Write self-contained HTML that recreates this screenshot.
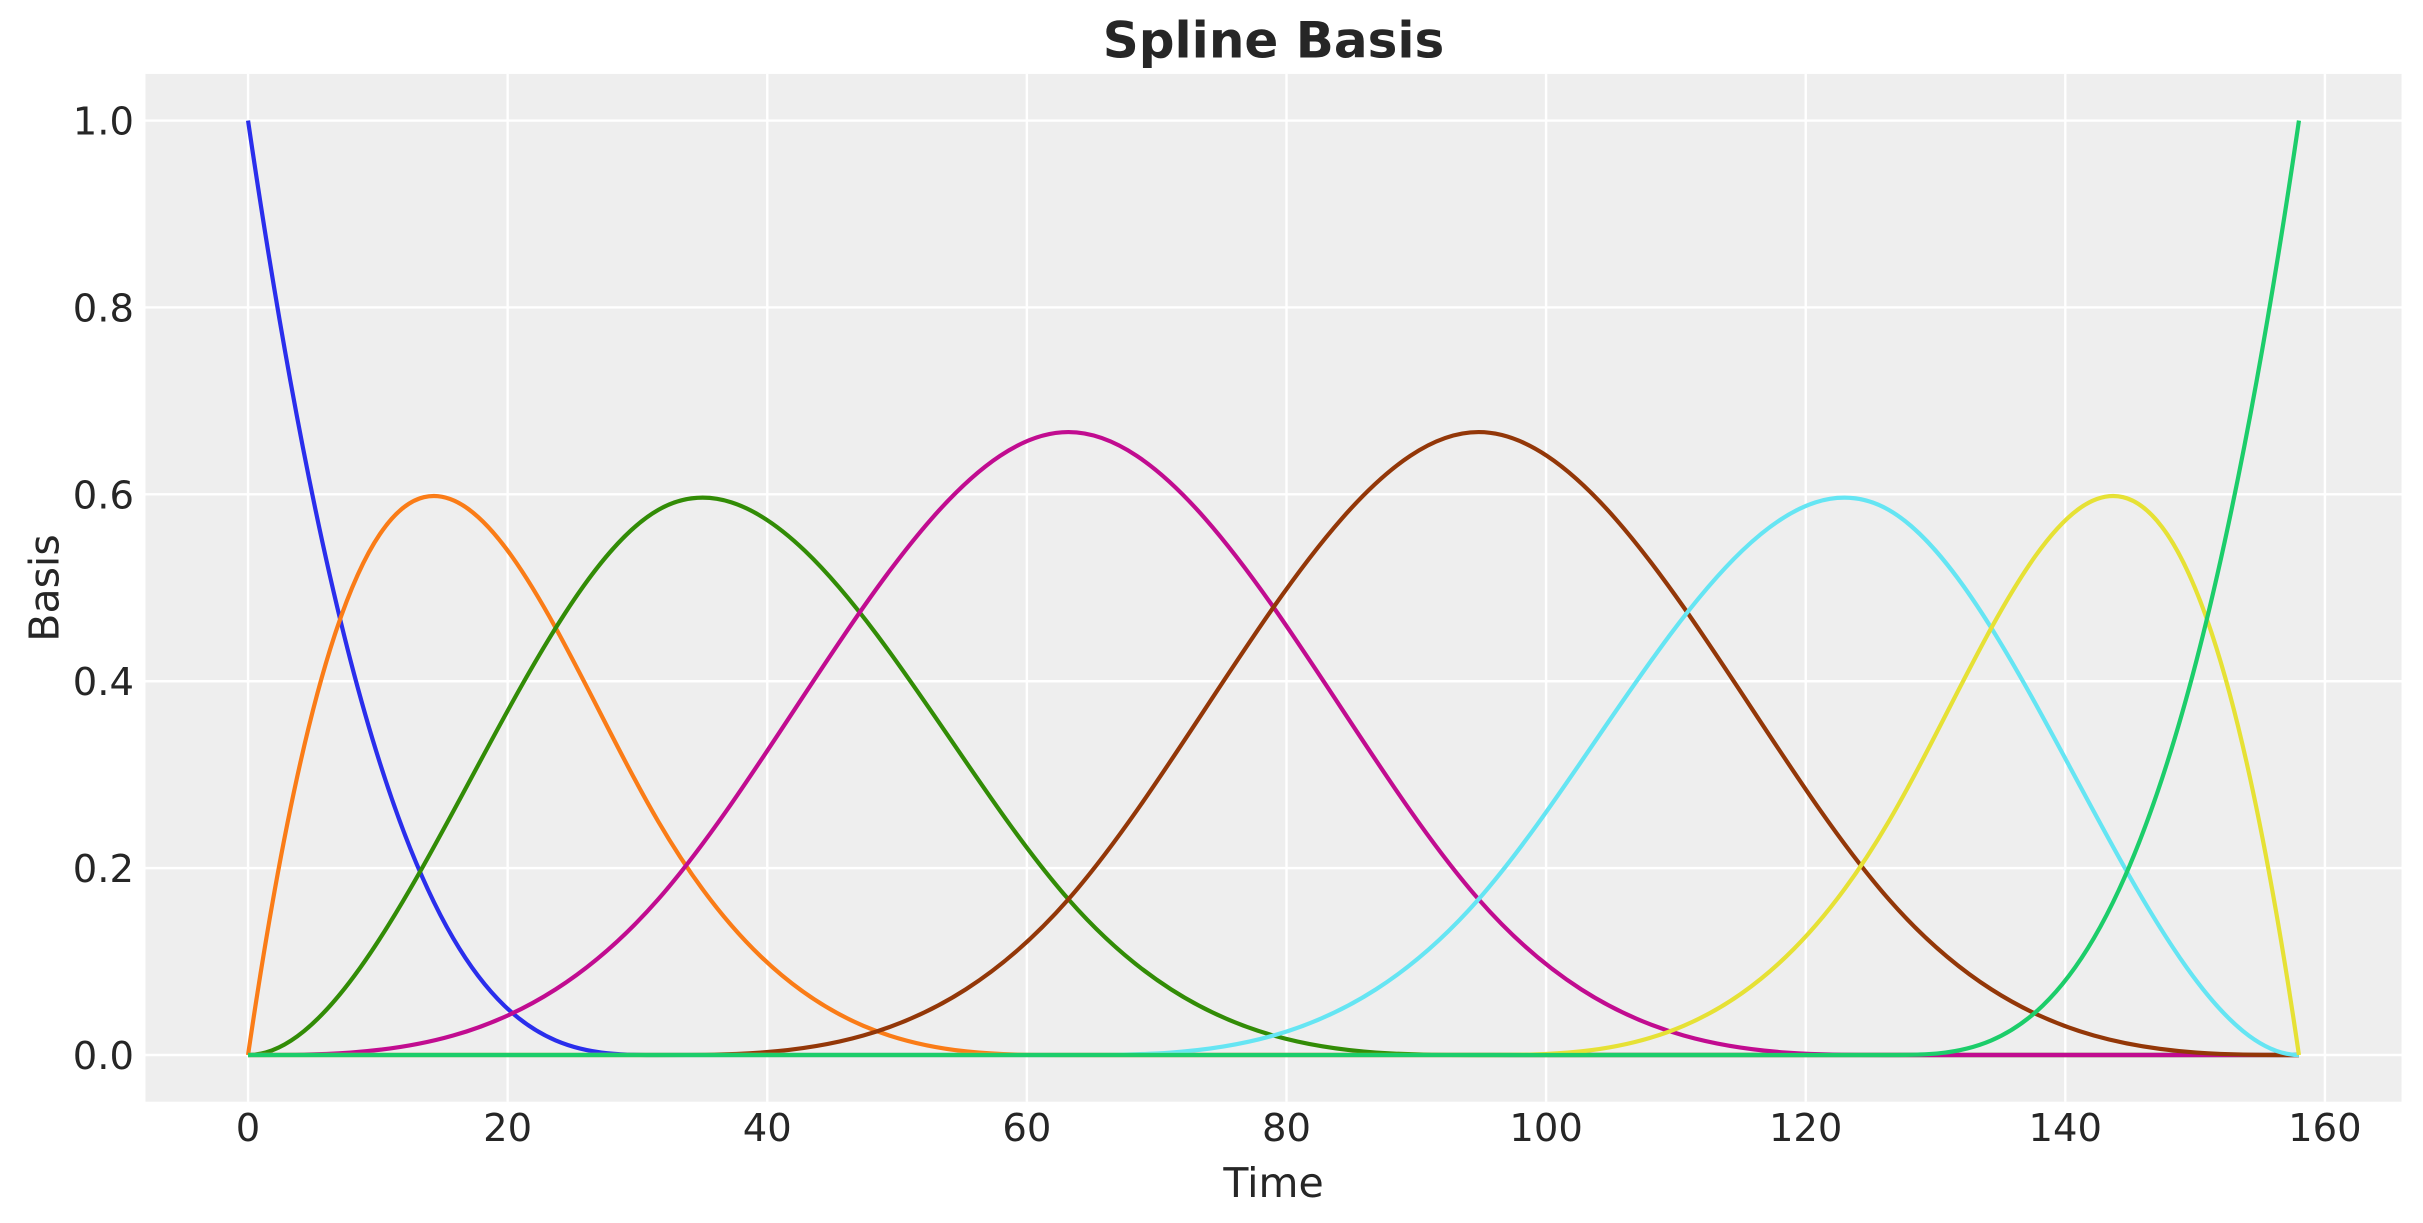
<!DOCTYPE html>
<html>
<head>
<meta charset="utf-8">
<style>
  html, body { margin: 0; padding: 0; background: #ffffff; }
  svg { display: block; }
  text { font-family: "DejaVu Sans", "Liberation Sans", sans-serif; fill: #262626; }
</style>
</head>
<body>
<svg width="2423" height="1223" viewBox="0 0 2423 1223" xmlns="http://www.w3.org/2000/svg">
  <rect x="0" y="0" width="2423" height="1223" fill="#ffffff"/>
  <!-- axes background -->
  <rect x="145.5" y="73.9" width="2256" height="1027.8" fill="#eeeeee"/>
  <!-- grid -->
  <g stroke="#ffffff" stroke-width="2.4">
    <line x1="248.05" y1="73.9" x2="248.05" y2="1101.7"/>
    <line x1="507.66" y1="73.9" x2="507.66" y2="1101.7"/>
    <line x1="767.27" y1="73.9" x2="767.27" y2="1101.7"/>
    <line x1="1026.88" y1="73.9" x2="1026.88" y2="1101.7"/>
    <line x1="1286.49" y1="73.9" x2="1286.49" y2="1101.7"/>
    <line x1="1546.10" y1="73.9" x2="1546.10" y2="1101.7"/>
    <line x1="1805.70" y1="73.9" x2="1805.70" y2="1101.7"/>
    <line x1="2065.31" y1="73.9" x2="2065.31" y2="1101.7"/>
    <line x1="2324.92" y1="73.9" x2="2324.92" y2="1101.7"/>
    <line x1="145.5" y1="1055" x2="2401.5" y2="1055"/>
    <line x1="145.5" y1="868.12" x2="2401.5" y2="868.12"/>
    <line x1="145.5" y1="681.24" x2="2401.5" y2="681.24"/>
    <line x1="145.5" y1="494.36" x2="2401.5" y2="494.36"/>
    <line x1="145.5" y1="307.48" x2="2401.5" y2="307.48"/>
    <line x1="145.5" y1="120.6" x2="2401.5" y2="120.6"/>
  </g>
  <!-- curves -->
  <g fill="none" stroke-width="4.2" stroke-linejoin="round" stroke-linecap="butt">
    <path stroke="#2a2eec" d="M248.05,120.6 C384.78,1055 521.50,1055 658.23,1055 L2298.95,1055"/>
    <path stroke="#fa7c17" d="M248.05,1055 C384.78,120.6 521.50,587.8 658.23,821.4 C794.96,1055 931.68,1055 1068.41,1055 L2298.95,1055"/>
    <path stroke="#328c06" d="M248.05,1055 C384.78,1055 521.50,587.8 658.23,509.93 C794.96,432.07 931.68,743.53 1068.41,899.27 C1205.14,1055 1341.86,1055 1478.59,1055 L2298.95,1055"/>
    <path stroke="#c10c90" d="M248.05,1055 C384.78,1055 521.50,1055 658.23,899.27 C794.96,743.53 931.68,432.07 1068.41,432.07 C1205.14,432.07 1341.86,743.53 1478.59,899.27 C1615.32,1055 1752.04,1055 1888.77,1055 L2298.95,1055"/>
    <path stroke="#933708" d="M248.05,1055 L658.23,1055 C794.96,1055 931.68,1055 1068.41,899.27 C1205.14,743.53 1341.86,432.07 1478.59,432.07 C1615.32,432.07 1752.04,743.53 1888.77,899.27 C2025.50,1055 2162.22,1055 2298.95,1055"/>
    <path stroke="#65e5f3" d="M248.05,1055 L1068.41,1055 C1205.14,1055 1341.86,1055 1478.59,899.27 C1615.32,743.53 1752.04,432.07 1888.77,509.93 C2025.50,587.8 2162.22,1055 2298.95,1055"/>
    <path stroke="#e6e135" d="M248.05,1055 L1478.59,1055 C1615.32,1055 1752.04,1055 1888.77,821.4 C2025.50,587.8 2162.22,120.6 2298.95,1055"/>
    <path stroke="#1ccd6a" d="M248.05,1055 L1888.77,1055 C2025.50,1055 2162.22,1055 2298.95,120.6"/>
  </g>
  <!-- x tick labels -->
  <g font-size="38.5" text-anchor="middle">
    <text x="248.05" y="1141">0</text>
    <text x="507.66" y="1141">20</text>
    <text x="767.27" y="1141">40</text>
    <text x="1026.88" y="1141">60</text>
    <text x="1286.49" y="1141">80</text>
    <text x="1546.10" y="1141">100</text>
    <text x="1805.70" y="1141">120</text>
    <text x="2065.31" y="1141">140</text>
    <text x="2324.92" y="1141">160</text>
  </g>
  <!-- y tick labels -->
  <g font-size="38.5" text-anchor="end">
    <text x="134" y="1069">0.0</text>
    <text x="134" y="882.1">0.2</text>
    <text x="134" y="695.2">0.4</text>
    <text x="134" y="508.4">0.6</text>
    <text x="134" y="321.5">0.8</text>
    <text x="134" y="134.6">1.0</text>
  </g>
  <!-- axis labels -->
  <text x="1273.5" y="1197" font-size="41" text-anchor="middle">Time</text>
  <text transform="translate(58.5,588) rotate(-90)" x="0" y="0" font-size="41" text-anchor="middle">Basis</text>
  <!-- title -->
  <text x="1273.5" y="57.3" font-size="50" font-weight="bold" text-anchor="middle">Spline Basis</text>
</svg>
</body>
</html>
